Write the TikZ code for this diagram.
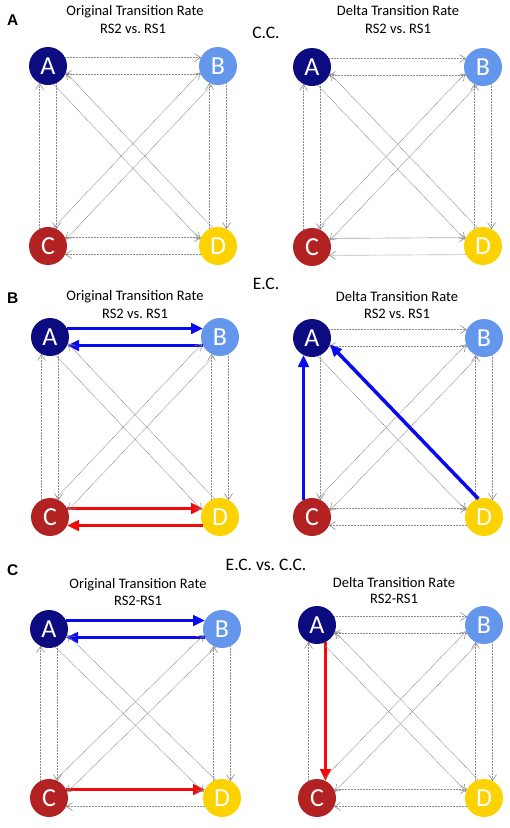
\documentclass[tikz,border=0pt]{standalone}
\usepackage{fontspec}
\setmainfont{Carlito}
\newfontfamily\lblfont{Liberation Sans}
\usetikzlibrary{arrows.meta,calc}
\definecolor{cA}{RGB}{12,12,128}
\definecolor{cB}{RGB}{100,150,235}
\definecolor{cC}{RGB}{178,34,34}
\definecolor{cD}{RGB}{252,210,0}
\definecolor{eB}{RGB}{10,10,240}
\definecolor{eR}{RGB}{240,10,10}
\definecolor{eG}{RGB}{140,140,140}
\def\sd{17pt}
\def\od{8.5pt}
\tikzset{
  st/.style={circle, minimum size=38pt, inner sep=0pt, text=white, font=\fontsize{26}{26}\selectfont},
  grayedge/.style={draw=eG, line width=0.65pt, dash pattern=on 0.8pt off 0.7pt, -{Straight Barb[length=6pt,width=8pt,line width=0.6pt]}},
  blueedge/.style={draw=eB, line width=3.5pt, -{Triangle[length=12pt,width=10.5pt]}},
  rededge/.style={draw=eR, line width=3.5pt, -{Triangle[length=12pt,width=10.5pt]}},
  ttl/.style={anchor=base, inner sep=0pt, font=\fontsize{14.5}{16}\selectfont},
  sec/.style={anchor=base, inner sep=0pt, font=\fontsize{17.5}{20}\selectfont},
  plbl/.style={anchor=base west, inner sep=0pt, font=\lblfont\fontsize{15.5}{17}\selectfont\bfseries},
  p3AB/.style=blueedge, p3BA/.style=blueedge, p3CD/.style=rededge, p3DC/.style=rededge,
  p4CA/.style=blueedge, p4DA/.style=blueedge,
  p5AB/.style=blueedge, p5BA/.style=blueedge, p5CD/.style=rededge,
  p6AC/.style=rededge,
}
\begin{document}
\begin{tikzpicture}[x=1pt,y=-1pt]
\useasboundingbox[fill=white] (0,0) rectangle (510,828);
% state nodes
\foreach \p/\ax/\ay/\bx/\by/\cx/\cy/\ddx/\ddy in {1/48/66/218/66/48/246/218/246, 2/312/67/483/67/312/247/483/246, 3/50/337/220/337/50/517/220/517, 4/312/338/484/338/312/517/484/517, 5/49/629/222/629/49/798/222/798, 6/317/625/484/625/317/798/484/798}{
  \node[st, fill=cA] (p\p A) at (\ax,\ay) {A};
  \node[st, fill=cB] (p\p B) at (\bx,\by) {B};
  \node[st, fill=cC] (p\p C) at (\cx,\cy) {C};
  \node[st, fill=cD] (p\p D) at (\ddx,\ddy) {D};
}
% transition edges
\foreach \p in {1,...,6}{
  \foreach \f/\t/\aa/\bb in {A/B/90/-90, B/A/90/-90, C/D/90/-90, D/C/90/-90, A/C/90/-90, C/A/90/-90, B/D/90/-90, D/B/90/-90, B/C/90/-90, C/B/90/-90, A/D/-90/90, D/A/-90/90}{
    \pgfkeysifdefined{/tikz/p\p\f\t/.@cmd}{\edef\estyle{p\p\f\t}}{\def\estyle{grayedge}}
    \edef\mydrawcmd{\noexpand\draw[\estyle]}
    \mydrawcmd ($(p\p\f)!\sd!(p\p\t)!\od!\aa:(p\p\t)$) -- ($(p\p\t)!\sd!(p\p\f)!\od!\bb:(p\p\f)$);
  }
}
% texts
\node[plbl] (lA) at (7,25) {A};
\node[ttl] (t1a) at (135,15) {Original Transition Rate};
\node[ttl] (t1b) at (133,33) {RS2 vs.\ RS1};
\node[sec] (s1) at (266,38) {C.C.};
\node[ttl] (t2a) at (398,15.5) {Delta Transition Rate};
\node[ttl] (t2b) at (398,33) {RS2 vs.\ RS1};
\node[plbl] (lB) at (7,303) {B};
\node[sec] (s2) at (266,289) {E.C.};
\node[ttl] (t3a) at (135,300) {Original Transition Rate};
\node[ttl] (t3b) at (135,318) {RS2 vs.\ RS1};
\node[ttl] (t4a) at (397,301) {Delta Transition Rate};
\node[ttl] (t4b) at (397,318) {RS2 vs.\ RS1};
\node[plbl] (lC) at (7,575) {C};
\node[sec] (s3) at (266,570) {E.C. vs.\ C.C.};
\node[ttl] (t5a) at (138,588) {Original Transition Rate};
\node[ttl] (t5b) at (138,605) {RS2-RS1};
\node[ttl] (t6a) at (394,587) {Delta Transition Rate};
\node[ttl] (t6b) at (394,603) {RS2-RS1};
\end{tikzpicture}
\end{document}
